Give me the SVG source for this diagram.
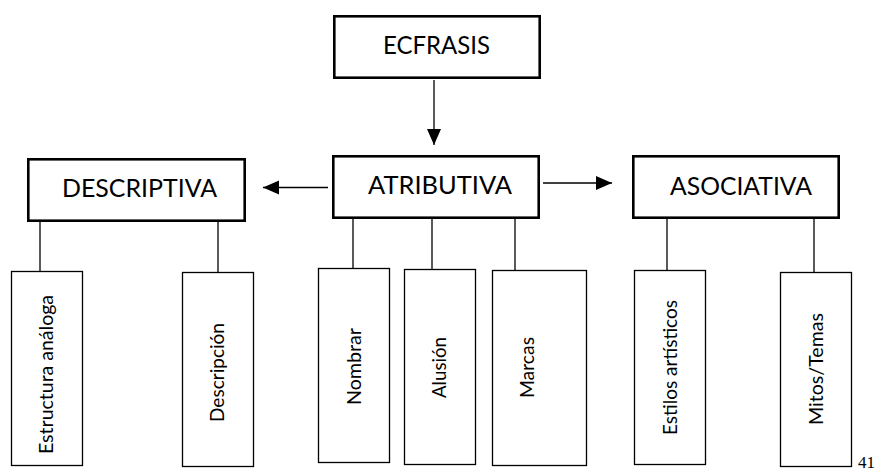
<svg xmlns="http://www.w3.org/2000/svg" width="881" height="472" viewBox="0 0 881 472">
<style>
.main{fill:#fff;stroke:#000;stroke-width:2.6}
.leaf{fill:#fff;stroke:#000;stroke-width:1.3}
.conn{stroke:#000;stroke-width:1.3;fill:none}
.mt{font-family:Lato,"Open Sans",sans-serif;font-size:25px;fill:#000;text-anchor:middle}
.lt{font-family:Lato,"Open Sans",sans-serif;font-size:19px;fill:#000;text-anchor:middle}
.pg{font-family:"Liberation Serif",serif;font-size:17px;fill:#000}
</style>
<defs>
<marker id="ah" markerUnits="userSpaceOnUse" markerWidth="17" markerHeight="16" refX="16" refY="7" orient="auto">
<path d="M0,0 L16,7 L0,14 z" fill="#000"/>
</marker>
</defs>
<rect width="881" height="472" fill="#fff"/>
<g id="connectors">
<line class="conn" x1="434" y1="80" x2="434" y2="145" marker-end="url(#ah)"/>
<line class="conn" x1="328" y1="187.5" x2="263" y2="187.5" marker-end="url(#ah)"/>
<line class="conn" x1="543" y1="183" x2="612" y2="183" marker-end="url(#ah)"/>
<line class="conn" x1="40" y1="222" x2="40" y2="271"/>
<line class="conn" x1="218" y1="222" x2="218" y2="272"/>
<line class="conn" x1="353" y1="219" x2="353" y2="268"/>
<line class="conn" x1="432" y1="219" x2="432" y2="269"/>
<line class="conn" x1="515" y1="219" x2="515" y2="270"/>
<line class="conn" x1="667" y1="219" x2="667" y2="270"/>
<line class="conn" x1="814" y1="219" x2="814" y2="272"/>
</g>
<g id="ecfrasis">
<rect class="main" x="334.3" y="16.3" width="205.4" height="61.4"/>
<text class="mt" x="436.5" y="54" textLength="107" lengthAdjust="spacingAndGlyphs">ECFRASIS</text>
</g>
<g id="descriptiva">
<rect class="main" x="28.3" y="159.3" width="216.4" height="61.4"/>
<text class="mt" x="139.5" y="197" textLength="155" lengthAdjust="spacingAndGlyphs">DESCRIPTIVA</text>
</g>
<g id="atributiva">
<rect class="main" x="333.3" y="156.3" width="205.4" height="61.4"/>
<text class="mt" x="440" y="194" textLength="144" lengthAdjust="spacingAndGlyphs">ATRIBUTIVA</text>
</g>
<g id="asociativa">
<rect class="main" x="633.3" y="156.3" width="205.4" height="61.4"/>
<text class="mt" x="741" y="195" textLength="142" lengthAdjust="spacingAndGlyphs">ASOCIATIVA</text>
</g>
<g id="estructura">
<rect class="leaf" x="11.5" y="271.5" width="71" height="194"/>
<text class="lt" transform="translate(53,374.5) rotate(-90)" textLength="159" lengthAdjust="spacingAndGlyphs">Estructura análoga</text>
</g>
<g id="descripcion">
<rect class="leaf" x="182.5" y="272.5" width="71" height="194"/>
<text class="lt" transform="translate(224,372.5) rotate(-90)" textLength="99" lengthAdjust="spacingAndGlyphs">Descripción</text>
</g>
<g id="nombrar">
<rect class="leaf" x="318.5" y="268.5" width="71" height="194"/>
<text class="lt" transform="translate(361,366.5) rotate(-90)" textLength="77" lengthAdjust="spacingAndGlyphs">Nombrar</text>
</g>
<g id="alusion">
<rect class="leaf" x="404.5" y="269.5" width="71" height="195"/>
<text class="lt" transform="translate(446,367.5) rotate(-90)" textLength="61" lengthAdjust="spacingAndGlyphs">Alusión</text>
</g>
<g id="marcas">
<rect class="leaf" x="492.5" y="270.5" width="94" height="195"/>
<text class="lt" transform="translate(534,367.5) rotate(-90)" textLength="61" lengthAdjust="spacingAndGlyphs">Marcas</text>
</g>
<g id="estilos">
<rect class="leaf" x="634.5" y="270.5" width="71" height="194"/>
<text class="lt" transform="translate(677,367.5) rotate(-90)" textLength="135" lengthAdjust="spacingAndGlyphs">Estilos artísticos</text>
</g>
<g id="mitos">
<rect class="leaf" x="780.5" y="272.5" width="71" height="194"/>
<text class="lt" transform="translate(823,369) rotate(-90)" textLength="112" lengthAdjust="spacingAndGlyphs">Mitos/Temas</text>
</g>
<text class="pg" x="858" y="468">41</text>
</svg>
